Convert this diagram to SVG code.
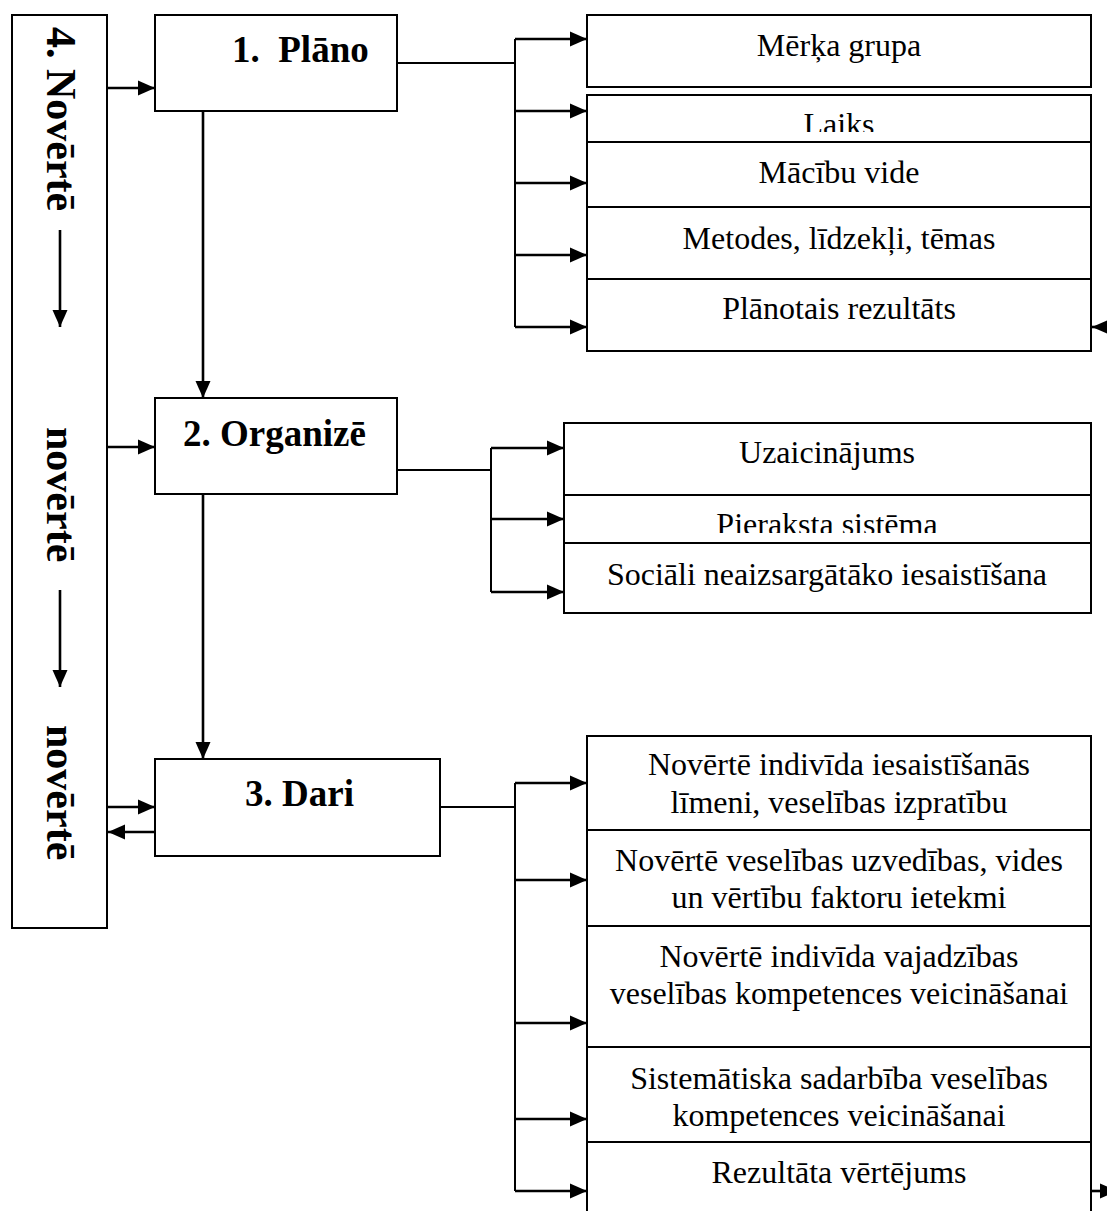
<svg xmlns="http://www.w3.org/2000/svg" width="1107" height="1211" viewBox="0 0 1107 1211">
  <style>
    .box { fill: #fff; stroke: #000; stroke-width: 2; }
    .wire { fill: none; stroke: #000; stroke-width: 2; }
    .arr { fill: none; stroke: #000; stroke-width: 2.6; marker-end: url(#head); }
    .head { font-family: "Liberation Serif", "Times New Roman", serif; font-weight: bold; font-size: 37px; fill: #000; }
    .side { font-family: "Liberation Serif", "Times New Roman", serif; font-weight: bold; font-size: 42px; fill: #000; }
    .item { font-family: "Liberation Serif", "Times New Roman", serif; font-size: 32px; fill: #000; text-anchor: middle; }
  </style>
  <defs>
    <marker id="head" markerUnits="userSpaceOnUse" markerWidth="18" markerHeight="16" refX="17" refY="8" orient="auto">
      <path d="M0,0.5 L17,8 L0,15.5 z" fill="#000"/>
    </marker>
    <clipPath id="clipLaiks"><rect x="587" y="95" width="504" height="37"/></clipPath>
    <clipPath id="clipPieraksta"><rect x="564" y="495" width="527" height="38"/></clipPath>
  </defs>
  <rect width="1107" height="1211" fill="#fff"/>

  <!-- evaluation column -->
  <g id="node-novertē">
    <rect class="box" x="12" y="15" width="95" height="913"/>
    <text class="side" transform="translate(47,27) rotate(90)">4. Novērtē</text>
    <line class="arr" x1="60" y1="230" x2="60" y2="327"/>
    <text class="side" transform="translate(47,427) rotate(90)">novērtē</text>
    <line class="arr" x1="60" y1="590" x2="60" y2="687"/>
    <text class="side" transform="translate(47,725) rotate(90)">novērtē</text>
  </g>

  <!-- main steps -->
  <g id="node-plano">
    <rect class="box" x="155" y="15" width="242" height="96"/>
    <text class="head" x="232" y="62">1.&#160; Plāno</text>
  </g>
  <g id="node-organize">
    <rect class="box" x="155" y="398" width="242" height="96"/>
    <text class="head" x="183" y="446">2. Organizē</text>
  </g>
  <g id="node-dari">
    <rect class="box" x="155" y="759" width="285" height="97"/>
    <text class="head" x="245" y="806">3. Dari</text>
  </g>

  <!-- planning items -->
  <g id="node-merka-grupa">
    <rect class="box" x="587" y="15" width="504" height="72"/>
    <text class="item" x="839" y="56">Mērķa grupa</text>
  </g>
  <g id="node-laiks">
    <rect class="box" x="587" y="95" width="504" height="47"/>
    <text class="item" x="839" y="135" clip-path="url(#clipLaiks)">Laiks</text>
  </g>
  <g id="node-macibu-vide">
    <rect class="box" x="587" y="142" width="504" height="65"/>
    <text class="item" x="839" y="183">Mācību vide</text>
  </g>
  <g id="node-metodes">
    <rect class="box" x="587" y="207" width="504" height="72"/>
    <text class="item" x="839" y="249">Metodes, līdzekļi, tēmas</text>
  </g>
  <g id="node-planotais">
    <rect class="box" x="587" y="279" width="504" height="72"/>
    <text class="item" x="839" y="319">Plānotais rezultāts</text>
  </g>

  <!-- organising items -->
  <g id="node-uzaicinajums">
    <rect class="box" x="564" y="423" width="527" height="72"/>
    <text class="item" x="827" y="463">Uzaicinājums</text>
  </g>
  <g id="node-pieraksta">
    <rect class="box" x="564" y="495" width="527" height="48"/>
    <text class="item" x="827" y="535" clip-path="url(#clipPieraksta)">Pieraksta sistēma</text>
  </g>
  <g id="node-sociali">
    <rect class="box" x="564" y="543" width="527" height="70"/>
    <text class="item" x="827" y="585">Sociāli neaizsargātāko iesaistīšana</text>
  </g>

  <!-- doing items -->
  <g id="node-iesaistisanas">
    <rect class="box" x="587" y="736" width="504" height="94"/>
    <text class="item" x="839" y="775">Novērtē indivīda iesaistīšanās</text>
    <text class="item" x="839" y="813">līmeni, veselības izpratību</text>
  </g>
  <g id="node-uzvedibas">
    <rect class="box" x="587" y="830" width="504" height="96"/>
    <text class="item" x="839" y="871">Novērtē veselības uzvedības, vides</text>
    <text class="item" x="839" y="908">un vērtību faktoru ietekmi</text>
  </g>
  <g id="node-vajadzibas">
    <rect class="box" x="587" y="926" width="504" height="121"/>
    <text class="item" x="839" y="967">Novērtē indivīda vajadzības</text>
    <text class="item" x="839" y="1004">veselības kompetences veicināšanai</text>
  </g>
  <g id="node-sadarbiba">
    <rect class="box" x="587" y="1047" width="504" height="95"/>
    <text class="item" x="839" y="1089">Sistemātiska sadarbība veselības</text>
    <text class="item" x="839" y="1126">kompetences veicināšanai</text>
  </g>
  <g id="node-rezultata">
    <rect class="box" x="587" y="1142" width="504" height="90"/>
    <text class="item" x="839" y="1183">Rezultāta vērtējums</text>
  </g>

  <!-- connectors -->
  <g id="connectors">
    <!-- evaluation column into the steps and back -->
    <line class="arr" x1="107" y1="88" x2="155" y2="88"/>
    <line class="arr" x1="107" y1="447" x2="155" y2="447"/>
    <line class="arr" x1="107" y1="807" x2="155" y2="807"/>
    <line class="arr" x1="155" y1="832" x2="108" y2="832"/>

    <!-- step to step -->
    <line class="arr" x1="203" y1="111" x2="203" y2="398"/>
    <line class="arr" x1="203" y1="494" x2="203" y2="759"/>

    <!-- plan branches -->
    <line class="wire" x1="397" y1="63" x2="515" y2="63"/>
    <line class="wire" x1="515" y1="39" x2="515" y2="327"/>
    <line class="arr" x1="515" y1="39" x2="587" y2="39"/>
    <line class="arr" x1="515" y1="111" x2="587" y2="111"/>
    <line class="arr" x1="515" y1="183" x2="587" y2="183"/>
    <line class="arr" x1="515" y1="255" x2="587" y2="255"/>
    <line class="arr" x1="515" y1="327" x2="587" y2="327"/>
    <line class="arr" x1="1120" y1="327" x2="1092" y2="327"/>

    <!-- organise branches -->
    <line class="wire" x1="397" y1="470" x2="491" y2="470"/>
    <line class="wire" x1="491" y1="448" x2="491" y2="592"/>
    <line class="arr" x1="491" y1="448" x2="564" y2="448"/>
    <line class="arr" x1="491" y1="519" x2="564" y2="519"/>
    <line class="arr" x1="491" y1="592" x2="564" y2="592"/>

    <!-- doing branches -->
    <line class="wire" x1="440" y1="807" x2="515" y2="807"/>
    <line class="wire" x1="515" y1="783" x2="515" y2="1191"/>
    <line class="arr" x1="515" y1="783" x2="587" y2="783"/>
    <line class="arr" x1="515" y1="880" x2="587" y2="880"/>
    <line class="arr" x1="515" y1="1023" x2="587" y2="1023"/>
    <line class="arr" x1="515" y1="1119" x2="587" y2="1119"/>
    <line class="arr" x1="515" y1="1191" x2="587" y2="1191"/>
    <line class="arr" x1="1091" y1="1191" x2="1117" y2="1191"/>
  </g>
</svg>
